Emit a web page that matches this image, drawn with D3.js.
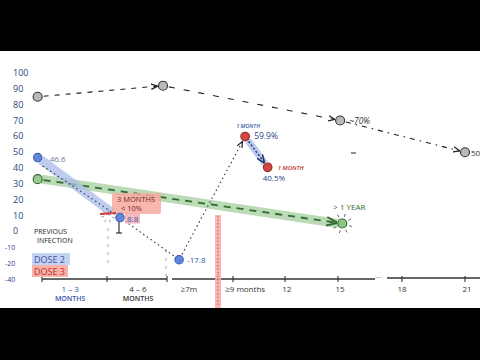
<!DOCTYPE html>
<html><head><meta charset="utf-8">
<script src="https://cdn.jsdelivr.net/npm/d3@7"></script>
<style>body{margin:0;background:#000}svg{display:block}text{font-family:"Open Sans",sans-serif}</style>
</head><body><svg id="c" width="480" height="360"></svg>
<script>
// ---- data ----
const yTickValues = [100, 90, 80, 70, 60, 50, 40, 30, 20, 10, 0, -10, -20, -30];
const yTickLabels = ["100","90","80","70","60","50","40","30","20","10","0","-10","-20","-40"];
const xTickMonths = [0, 3, 6, 9, 12, 15, 18, 21];
const xLabelMonths = [1.3, 4.55, 7, 9.7, 12.1, 15.1, 18, 21.1];
const xLabelTexts = [["1 – 3","MONTHS"],["4 – 6","MONTHS"],["≥7m"],["≥9 months"],["12"],["15"],["18"],["21"]];
const prevMonths = [-0.2, 5.8, 15.1, 21];
const prevValues = [85, 92, 70, 50];
const prevLabels = ["", "", "~70%", "50"];
const dose2Months = [-0.2, 3.65, 6.55];
const dose2Values = [46.6, 8.8, -17.8];
const dose2Labels = ["46.6", "8.8", "-17.8"];
const dose3Months = [9.7, 11.0];
const dose3Values = [59.9, 40.5];
const dose3Labels = ["59.9%", "40.5%"];
const greenMonths = [-0.2, 15.2];
const greenValues = [33, 5];

// ---- setup ----
const svg = d3.select("#c");
svg.append("rect").attr("width",480).attr("height",360).attr("fill","#000");
svg.append("rect").attr("x",0).attr("y",51).attr("width",480).attr("height",257).attr("fill","#fff");

const x = d3.scaleLinear().domain(xTickMonths).range([42,107,167,233,285,338,402,465]);
const y = d3.scaleLinear().domain([-30,100]).range([279,73]);

const defs = svg.append("defs");
function marker(id,color){
  defs.append("marker").attr("id",id).attr("viewBox","0 0 10 10").attr("refX",9).attr("refY",5)
    .attr("markerWidth",6).attr("markerHeight",6).attr("orient","auto")
    .append("path").attr("d","M0,1 L10,5 L0,9").attr("fill","none").attr("stroke",color).attr("stroke-width",1.8);
}
marker("ak","#222"); marker("ag","#2f6b2f"); marker("ab","#1d2f66");

function seg(x1,y1,x2,y2,r){
  const dx=x2-x1, dy=y2-y1, L=Math.hypot(dx,dy);
  return [x1+dx/L*r, y1+dy/L*r, x2-dx/L*r, y2-dy/L*r];
}
function line(g,p,opts){
  return g.append("line").attr("x1",p[0]).attr("y1",p[1]).attr("x2",p[2]).attr("y2",p[3])
    .attr("stroke",opts.c).attr("stroke-width",opts.w||1).attr("stroke-dasharray",opts.d||null)
    .attr("stroke-linecap",opts.cap||"butt").attr("opacity",opts.o==null?1:opts.o)
    .attr("marker-end",opts.m?`url(#${opts.m})`:null);
}
function burst(cx,cy,r1,r2,n,color){
  for(let i=0;i<n;i++){const a=i/n*2*Math.PI+0.3;
    svg.append("line").attr("x1",cx+Math.cos(a)*r1).attr("y1",cy+Math.sin(a)*r1)
      .attr("x2",cx+Math.cos(a)*r2).attr("y2",cy+Math.sin(a)*r2).attr("stroke",color).attr("stroke-width",0.9);}
}

// ---- y tick labels ----
svg.append("g").selectAll("text").data(yTickValues).join("text")
  .attr("x",(d)=>d<0?5:13).attr("y",d=>y(d)+3).attr("font-size",(d)=>d<0?7:9)
  .attr("fill","#2d3f80").text((d,i)=>yTickLabels[i]);

// ---- x axis ----
const ax = svg.append("g");
line(ax,[x(0),279,x(6),279],{c:"#333",w:1.3});
line(ax,[x(6)+5,279,375,279],{c:"#333",w:1.3});
line(ax,[387,278,480,278],{c:"#333",w:1.3});
ax.append("text").attr("x",375).attr("y",280).attr("font-size",8).attr("fill","#333").text("···");
ax.selectAll(".t").data(xTickMonths).join("line").attr("class","t")
  .attr("x1",d=>x(d)).attr("x2",d=>x(d)).attr("y1",276).attr("y2",282).attr("stroke","#333").attr("stroke-width",1.1);
xLabelTexts.forEach((lines,i)=>{
  lines.forEach((t,j)=>{
    ax.append("text").attr("x",x(xLabelMonths[i])).attr("y",292+j*9).attr("text-anchor","middle")
      .attr("font-size", j===1?7:8).attr("font-weight",j===1?600:400)
      .attr("fill", i===0?"#3553a8":"#333").text(t);
  });
});
// guides
line(svg,[x(3)+1,228,x(3)+1,268],{c:"#aaa",w:1,d:"3,5"});
line(svg,[x(6)-1,250,x(6)-1,276],{c:"#aaa",w:1,d:"3,5"});
// red vertical band
svg.append("rect").attr("x",215).attr("y",215).attr("width",6).attr("height",93).attr("fill","#f5aaa8").attr("opacity",0.85);
line(svg,[218,216,218,306],{c:"#d44",w:1,d:"1.5,2"});

// ---- green band ----
const g0=[x(greenMonths[0]),y(greenValues[0])], g1=[x(greenMonths[1]),y(greenValues[1])];
line(svg,[g0[0]+4,g0[1],g1[0]-4,g1[1]],{c:"#9fcc98",w:9,o:0.7});
line(svg,seg(g0[0],g0[1],g1[0],g1[1],6),{c:"#2f6b2f",w:1.8,d:"7,6",m:"ag"});

// ---- dose2 band ----
const b = dose2Months.map((m,i)=>[x(m),y(dose2Values[i])]);
const r = dose3Months.map((m,i)=>[x(m),y(dose3Values[i])]);
line(svg,[b[0][0]+3,b[0][1]+2,b[1][0]-8,b[1][1]-5],{c:"#a9bdea",w:9,o:0.75});
line(svg,seg(b[0][0],b[0][1]+5,b[1][0],b[1][1],6),{c:"#333",w:1.1,d:"1.5,3"});
line(svg,seg(b[1][0],b[1][1],b[2][0],b[2][1],6),{c:"#333",w:1.1,d:"1.5,3"});
line(svg,seg(b[2][0],b[2][1],r[0][0],r[0][1],6),{c:"#333",w:1.1,d:"1.5,3",m:"ak"});
line(svg,seg(r[0][0],r[0][1],r[1][0],r[1][1],5),{c:"#a9bdea",w:7,o:0.8});
line(svg,seg(r[0][0],r[0][1],r[1][0],r[1][1],6),{c:"#1d2f66",w:1.4,d:"2,2",m:"ab"});

// ---- previous infection line ----
const p = prevMonths.map((m,i)=>[x(m),y(prevValues[i])]);
line(svg,seg(p[0][0],p[0][1],p[1][0],p[1][1],6),{c:"#222",w:1.1,d:"5,6",m:"ak"});
line(svg,seg(p[1][0],p[1][1],p[2][0],p[2][1],6),{c:"#222",w:1.1,d:"6,9",m:"ak"});
line(svg,seg(p[2][0],p[2][1],p[3][0],p[3][1],6),{c:"#222",w:1.1,d:"5,5,1.5,5",m:"ak"});
line(svg,[351,153,356,153],{c:"#222",w:1});

// ---- annotation boxes ----
svg.append("rect").attr("x",112).attr("y",193).attr("width",49).attr("height",21).attr("rx",2).attr("fill","#f6a9a0").attr("opacity",0.85);
svg.append("text").attr("x",117).attr("y",202).attr("font-size",7.5).attr("fill","#7a1d1d").text("3 MONTHS");
svg.append("text").attr("x",121).attr("y",211).attr("font-size",7.5).attr("fill","#7a1d1d").text("< 10%");
line(svg,[100,214,116,213],{c:"#d9302a",w:1.8});
burst(108,216,4,7,7,"#999");
line(svg,[b[1][0]-1,b[1][1]+4,b[1][0]-1,233],{c:"#222",w:1.1});
line(svg,[b[1][0]-4,233,b[1][0]+2,233],{c:"#222",w:1.1});
svg.append("rect").attr("x",b[1][0]+5).attr("y",b[1][1]-4).attr("width",15).attr("height",10).attr("fill","#f6b0b8").attr("opacity",0.9);

// ---- points ----
function pts(data,fill,stroke,rad){
  svg.append("g").selectAll("circle").data(data).join("circle")
    .attr("cx",d=>d[0]).attr("cy",d=>d[1]).attr("r",rad).attr("fill",fill).attr("stroke",stroke).attr("stroke-width",1.1);
}
pts(p,"#b9b9b9","#333",4.5);
pts(b,"#5f86da","#3d5fb0",4.2);
pts(r,"#d1463f","#8e2a25",4.3);
pts([g1],"#8fc486","#2f6b2f",4.5);
pts([g0],"#9bc893","#2f6b2f",4.5);
burst(g1[0],g1[1],7,10,8,"#555");

// ---- labels ----
function lab(tx,ty,t,size,color,opt){
  return svg.append("text").attr("x",tx).attr("y",ty).attr("font-size",size).attr("fill",color)
    .attr("font-style",opt&&opt.it?"italic":null).attr("font-weight",opt&&opt.b?600:null).text(t);
}
lab(b[0][0]+12,b[0][1]+4,dose2Labels[0],8,"#6a7696");
lab(b[1][0]+7,b[1][1]+4,dose2Labels[1],8,"#3553a8");
lab(b[2][0]+8,b[2][1]+3,dose2Labels[2],8,"#3553a8");
lab(r[0][0]-9,r[0][1]-9,"1 MONTH",5.5,"#3553a8",{it:1,b:1});
lab(r[0][0]+9,r[0][1]+2,dose3Labels[0],8.5,"#2d3f80");
lab(r[1][0]+10,r[1][1]+3,"1 MONTH",6,"#c0302a",{it:1,b:1});
lab(r[1][0]-5,r[1][1]+14,dose3Labels[1],8,"#2d3f80");
lab(p[2][0]+9,p[2][1]+3,prevLabels[2],8.5,"#333",{it:1});
lab(p[3][0]+6,p[3][1]+4,prevLabels[3],8,"#333");
lab(g1[0]-9,g1[1]-14,"> 1 YEAR",8,"#2f6b2f");
// legend
lab(34,234,"PREVIOUS",7,"#222");
lab(37,243,"INFECTION",7,"#222");
svg.append("rect").attr("x",32).attr("y",253).attr("width",38).attr("height",12).attr("fill","#c5d2f1");
lab(34,262.5,"DOSE 2",9,"#3553a8");
svg.append("rect").attr("x",32).attr("y",265).attr("width",36).attr("height",12).attr("fill","#f6b2a8");
lab(34,274.5,"DOSE 3",9,"#c0302a");
</script></body></html>
